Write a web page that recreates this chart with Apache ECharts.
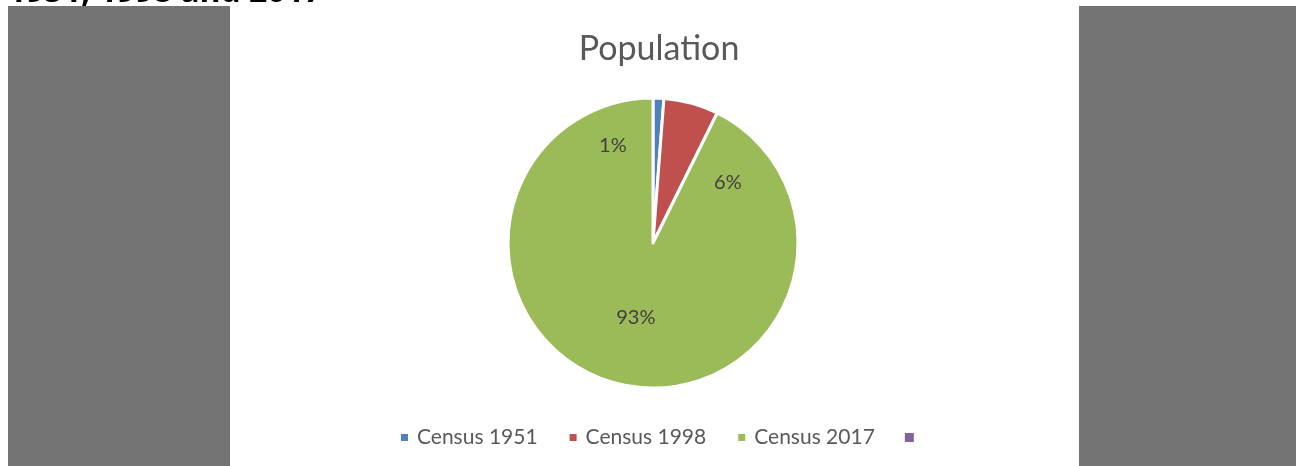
<!DOCTYPE html>
<html>
<head>
<meta charset="utf-8">
<script src="https://cdn.jsdelivr.net/npm/echarts@6/dist/echarts.min.js"></script>
<style>
html,body{margin:0;padding:0;background:#fff;}
#chart{width:1304px;height:466px;}
</style>
</head>
<body>
<div id="chart"></div>
<script>
const categories = ['Census 1951', 'Census 1998', 'Census 2017', ' '];
const values = [1.2, 6.1, 92.7, 0];
const colors = ['#4F81BD', '#C0504D', '#9BBB59', '#8064A2'];
const titleText = 'Population';
const captionText = '1951, 1998 and 2017';

const labelOffsets = [[-43, -22], [55, 12], [0, 1], [0, 0]];

const chart = echarts.init(document.getElementById('chart'), null, {renderer: 'canvas'});
chart.setOption({
  animation: false,
  backgroundColor: '#ffffff',
  title: {
    text: titleText,
    left: 654, top: 27, textAlign: 'center',
    textStyle: {fontFamily: 'Lato', fontWeight: 'normal', fontSize: 34, color: '#595959'}
  },
  graphic: [
    {type: 'rect', shape: {x: 8, y: 6, width: 222, height: 460}, style: {fill: '#737373'}, z: -1},
    {type: 'rect', shape: {x: 1079, y: 6, width: 217, height: 460}, style: {fill: '#737373'}, z: -1},
    {type: 'text', left: 8, top: -23, style: {text: captionText, fontFamily: 'Open Sans', fontWeight: 'bold', fontSize: 32, fill: '#000'}}
  ],
  legend: {
    bottom: 13, left: 394,
    itemWidth: 9, itemHeight: 9, itemGap: 30,
    icon: 'rect',
    data: categories,
    textStyle: {fontFamily: 'Lato', fontSize: 21, color: '#595959', padding: [0, 0, 0, 3]},
    selectedMode: false
  },
  series: [{
    type: 'pie',
    center: [653, 243],
    radius: 145,
    startAngle: 90,
    clockwise: true,
    avoidLabelOverlap: false,
    stillShowZeroSum: true,
    minAngle: 0,
    itemStyle: {borderColor: '#ffffff', borderWidth: 3},
    label: {
      show: true, position: 'inside',
      formatter: p => Math.round(p.percent) + '%',
      fontFamily: 'Lato', fontSize: 20, color: '#404040'
    },
    labelLine: {show: false},
    emphasis: {disabled: true},
    data: categories.map((c, i) => ({
      name: c, value: values[i],
      itemStyle: {color: colors[i], borderWidth: values[i] === 0 ? 0 : 3},
      label: {show: values[i] !== 0, offset: labelOffsets[i]}
    }))
  }]
});
</script>
</body>
</html>
